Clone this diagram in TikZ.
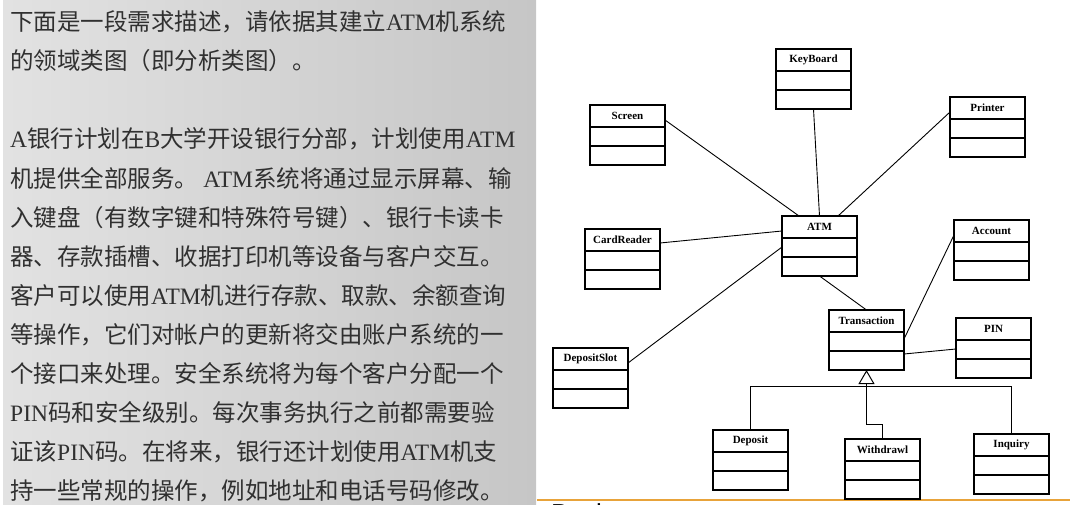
\documentclass[tikz,border=0pt]{standalone}
\usepackage{fontspec}
\setmainfont{Liberation Serif}
\newfontfamily\cjkfont{Noto Sans CJK SC}
\newfontfamily\footfont{Liberation Sans}
\usetikzlibrary{arrows.meta,calc}

\definecolor{panelL}{HTML}{E2E2E2}
\definecolor{panelM}{HTML}{ECECEC}
\definecolor{panelR}{HTML}{C6C6C6}
\definecolor{bodytext}{HTML}{303030}
\definecolor{ruleorange}{HTML}{E8A33A}

% Latin runs inside the Chinese paragraph
\newcommand\en[1]{{\rmfamily #1}}

% class box: name, left x, top y, title
\newcommand\umlclass[4]{%
  \node[clsbox, anchor=north west] (#1) at (#2,#3) {};
  \draw[clsline] ($(#1.north west)+(0,22)$) -- ($(#1.north east)+(0,22)$);
  \draw[clsline] ($(#1.north west)+(0,41)$) -- ($(#1.north east)+(0,41)$);
  \node[clsname] (#1-name) at ($(#1.north)+(0,11)$) {#4};
}

\begin{document}
\begin{tikzpicture}[x=1pt,y=-1pt,
  clsbox/.style={draw=black, line width=1.2pt, fill=white,
    minimum width=75pt, minimum height=60pt, inner sep=0pt, outer sep=0pt},
  clsline/.style={black, line width=1.1pt},
  clsname/.style={font=\bfseries\fontsize{11}{13}\selectfont, inner sep=0pt},
  assoc/.style={black, line width=0.9pt},
  txt/.style={anchor=base west, inner sep=0pt, text=bodytext,
    font=\cjkfont\fontsize{23.5}{28}\selectfont}]

\useasboundingbox (0,0) rectangle (1070,505);

% slide panel with the requirement text
\shade[left color=panelL, middle color=panelM, right color=panelR]
  (3,0) rectangle (536,505);

\node[txt] (l1)  at (10,31)  {下面是一段需求描述，请依据其建立\en{ATM}机系统};
\node[txt] (l2)  at (10,70)  {的领域类图（即分析类图）。};
\node[txt] (l4)  at (10,148) {\en{A}银行计划在\en{B}大学开设银行分部，计划使用\en{ATM}};
\node[txt] (l5)  at (10,187) {机提供全部服务。 \en{ATM}系统将通过显示屏幕、输};
\node[txt] (l6)  at (10,226) {入键盘（有数字键和特殊符号键）、银行卡读卡};
\node[txt] (l7)  at (10,265) {器、存款插槽、收据打印机等设备与客户交互。};
\node[txt] (l8)  at (10,304) {客户可以使用\en{ATM}机进行存款、取款、余额查询};
\node[txt] (l9)  at (10,343) {等操作，它们对帐户的更新将交由账户系统的一};
\node[txt] (l10) at (10,382) {个接口来处理。安全系统将为每个客户分配一个};
\node[txt] (l11) at (10,421) {\en{PIN}码和安全级别。每次事务执行之前都需要验};
\node[txt] (l12) at (10,460) {证该\en{PIN}码。在将来，银行还计划使用\en{ATM}机支};
\node[txt] (l13) at (10,499) {持一些常规的操作，例如地址和电话号码修改。};

% footer rule and the top of the next caption
\draw[ruleorange, line width=2pt] (537,500) -- (1070,500);
\node[anchor=base west, inner sep=0pt, font=\footfont\fontsize{26}{26}\selectfont]
  (footer) at (551,522) {Back};

% association lines
\coordinate (genbar) at (0,386);

% classes
\umlclass{keyboard}{776}{49}{KeyBoard}
\umlclass{screen}{590}{105}{Screen}
\umlclass{printer}{950}{97}{Printer}
\umlclass{atm}{782}{216}{ATM}
\umlclass{cardreader}{585}{229}{CardReader}
\umlclass{account}{954}{220}{Account}
\umlclass{transaction}{829}{310}{Transaction}
\umlclass{pin}{956}{318}{PIN}
\umlclass{depositslot}{553}{348}{DepositSlot}
\umlclass{deposit}{713}{430}{Deposit}
\umlclass{withdrawl}{845}{439}{Withdrawl}
\umlclass{inquiry}{974}{434}{Inquiry}

\draw[assoc] ($(screen.north east)+(0,15)$) -- ($(atm.north west)+(17,0)$);
\draw[assoc] (keyboard.south) -- (atm.north);
\draw[assoc] ($(printer.north west)+(0,15)$) -- ($(atm.north west)+(56,0)$);
\draw[assoc] ($(cardreader.north east)+(0,14)$) -- ($(atm.north west)+(0,15)$);
\draw[assoc] ($(depositslot.north east)+(0,15)$) -- ($(atm.north west)+(0,31)$);
\draw[assoc] (atm.south) -- (transaction.north);
\draw[assoc] ($(account.north west)+(0,15)$) -- ($(transaction.north east)+(0,29)$);
\draw[assoc] ($(pin.north west)+(0,31)$) -- ($(transaction.north east)+(0,44)$);

% generalisation of the three transaction kinds
\draw[assoc] (deposit.north) -- (deposit.north |- genbar)
  -- (inquiry.north |- genbar) -- (inquiry.north);
\draw[assoc, -{Triangle[open, length=14pt, width=16pt, line width=1pt]}]
  (withdrawl.north) -- ++(0,-15) -| (transaction.south);

\end{tikzpicture}
\end{document}
